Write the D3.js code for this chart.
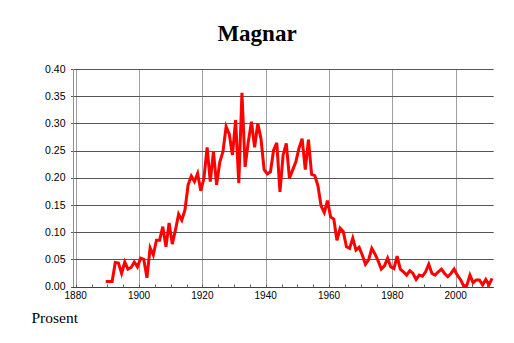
<!DOCTYPE html>
<html><head><meta charset="utf-8">
<script src="https://cdn.jsdelivr.net/npm/d3@7/dist/d3.min.js"></script>
<style>body{margin:0;background:#fff}svg{display:block}</style>
</head><body>
<svg id="chart" width="514" height="343"></svg>
<script>
const title = "Magnar";
const yAxisLabel = "Prosent";
const startYear = 1889;
const values = [
  0.009, 0.009, 0.009, 0.044, 0.043, 0.024, 0.045, 0.032, 0.035, 0.045, 0.036,   // 1889-1899
  0.052, 0.050, 0.016, 0.071, 0.058, 0.085, 0.085, 0.110, 0.073, 0.117,          // 1900-1909
  0.078, 0.104, 0.133, 0.122, 0.141, 0.187, 0.203, 0.193, 0.208, 0.176,          // 1910-1919
  0.199, 0.256, 0.193, 0.248, 0.187, 0.229, 0.248, 0.294, 0.280, 0.242,          // 1920-1929
  0.306, 0.190, 0.356, 0.220, 0.266, 0.303, 0.256, 0.300, 0.272, 0.215,          // 1930-1939
  0.207, 0.211, 0.251, 0.264, 0.174, 0.242, 0.263, 0.199, 0.214, 0.229,          // 1940-1949
  0.254, 0.272, 0.215, 0.270, 0.206, 0.204, 0.185, 0.148, 0.136, 0.158,          // 1950-1959
  0.128, 0.124, 0.085, 0.107, 0.101, 0.073, 0.070, 0.089, 0.067, 0.072,          // 1960-1969
  0.058, 0.041, 0.049, 0.070, 0.060, 0.047, 0.032, 0.038, 0.052, 0.036,          // 1970-1979
  0.033, 0.056, 0.032, 0.027, 0.021, 0.029, 0.024, 0.013, 0.021, 0.019,          // 1980-1989
  0.027, 0.041, 0.024, 0.021, 0.027, 0.032, 0.024, 0.018, 0.024, 0.032,          // 1990-1999
  0.021, 0.013, 0.001, 0.002, 0.021, 0.007, 0.012, 0.012, 0.003, 0.013,          // 2000-2009
  0.003, 0.015                                                                   // 2010-2011
];
const xMajorTicks = [1880, 1900, 1920, 1940, 1960, 1980, 2000];
const xMinorTicks = [1885,1890,1895,1905,1910,1915,1925,1930,1935,1945,1950,1955,1965,1970,1975,1985,1990,1995,2005,2010];
const yTicks = [0, 0.05, 0.10, 0.15, 0.20, 0.25, 0.30, 0.35, 0.40];

const data = values.map((v, i) => ({year: startYear + i, value: v}));

const svg = d3.select("#chart");
const x = d3.scaleLinear().domain([1880, 2012]).range([75.7, 493.7]);
const y = d3.scaleLinear().domain([0, 0.4]).range([286.5, 69]);
const crisp = v => Math.round(v) + 0.5;

// vertical grid (major years)
svg.append("g").selectAll("line").data(xMajorTicks).join("line")
  .attr("x1", d => crisp(x(d))).attr("x2", d => crisp(x(d)))
  .attr("y1", y(0.4)).attr("y2", y(0))
  .attr("stroke", "#a0a0a0").attr("stroke-width", 1);

// horizontal grid
svg.append("g").selectAll("line").data(yTicks).join("line")
  .attr("x1", 71).attr("x2", x(2012))
  .attr("y1", d => crisp(y(d))).attr("y2", d => crisp(y(d)))
  .attr("stroke", "#555555").attr("stroke-width", 1);

// y axis line
svg.append("line")
  .attr("x1", 73.5).attr("x2", 73.5).attr("y1", y(0.4)).attr("y2", crisp(y(0)))
  .attr("stroke", "#909090").attr("stroke-width", 1);

// x axis line
svg.append("line")
  .attr("x1", 73).attr("x2", x(2012)).attr("y1", crisp(y(0))).attr("y2", crisp(y(0)))
  .attr("stroke", "#404040").attr("stroke-width", 1);

// minor ticks (pointing up)
svg.append("g").selectAll("line").data(xMinorTicks.concat(xMajorTicks)).join("line")
  .attr("x1", d => crisp(x(d))).attr("x2", d => crisp(x(d)))
  .attr("y1", crisp(y(0)) - 3).attr("y2", crisp(y(0)))
  .attr("stroke", "#606060").attr("stroke-width", 1);

// y tick labels
svg.append("g").selectAll("text").data(yTicks).join("text")
  .attr("x", 65.5).attr("y", d => y(d) + 3.7)
  .attr("text-anchor", "end")
  .attr("font-family", "Liberation Sans, Arial, sans-serif")
  .attr("font-size", 10.5).attr("fill", "#000")
  .text(d => d3.format(".2f")(d));

// x tick labels
svg.append("g").selectAll("text").data(xMajorTicks).join("text")
  .attr("x", d => x(d)).attr("y", 298.5)
  .attr("text-anchor", "middle")
  .attr("font-family", "Liberation Sans, Arial, sans-serif")
  .attr("font-size", 10).attr("fill", "#000")
  .text(d => d);

// data line
const line = d3.line().x(d => x(d.year + 0.5)).y(d => y(d.value));
svg.append("path").datum(data)
  .attr("d", line)
  .attr("fill", "none").attr("stroke", "#ff0000")
  .attr("stroke-width", 3).attr("stroke-linejoin", "miter");

// title
svg.append("text").attr("x", 257).attr("y", 41)
  .attr("text-anchor", "middle")
  .attr("font-family", "Liberation Serif, Times New Roman, serif")
  .attr("font-weight", "bold").attr("font-size", 23).attr("fill", "#000")
  .text(title);

// axis caption
svg.append("text").attr("x", 31.5).attr("y", 322.5)
  .attr("font-family", "Liberation Serif, Times New Roman, serif")
  .attr("font-size", 15.5).attr("fill", "#000")
  .text(yAxisLabel);
</script>
</body></html>
